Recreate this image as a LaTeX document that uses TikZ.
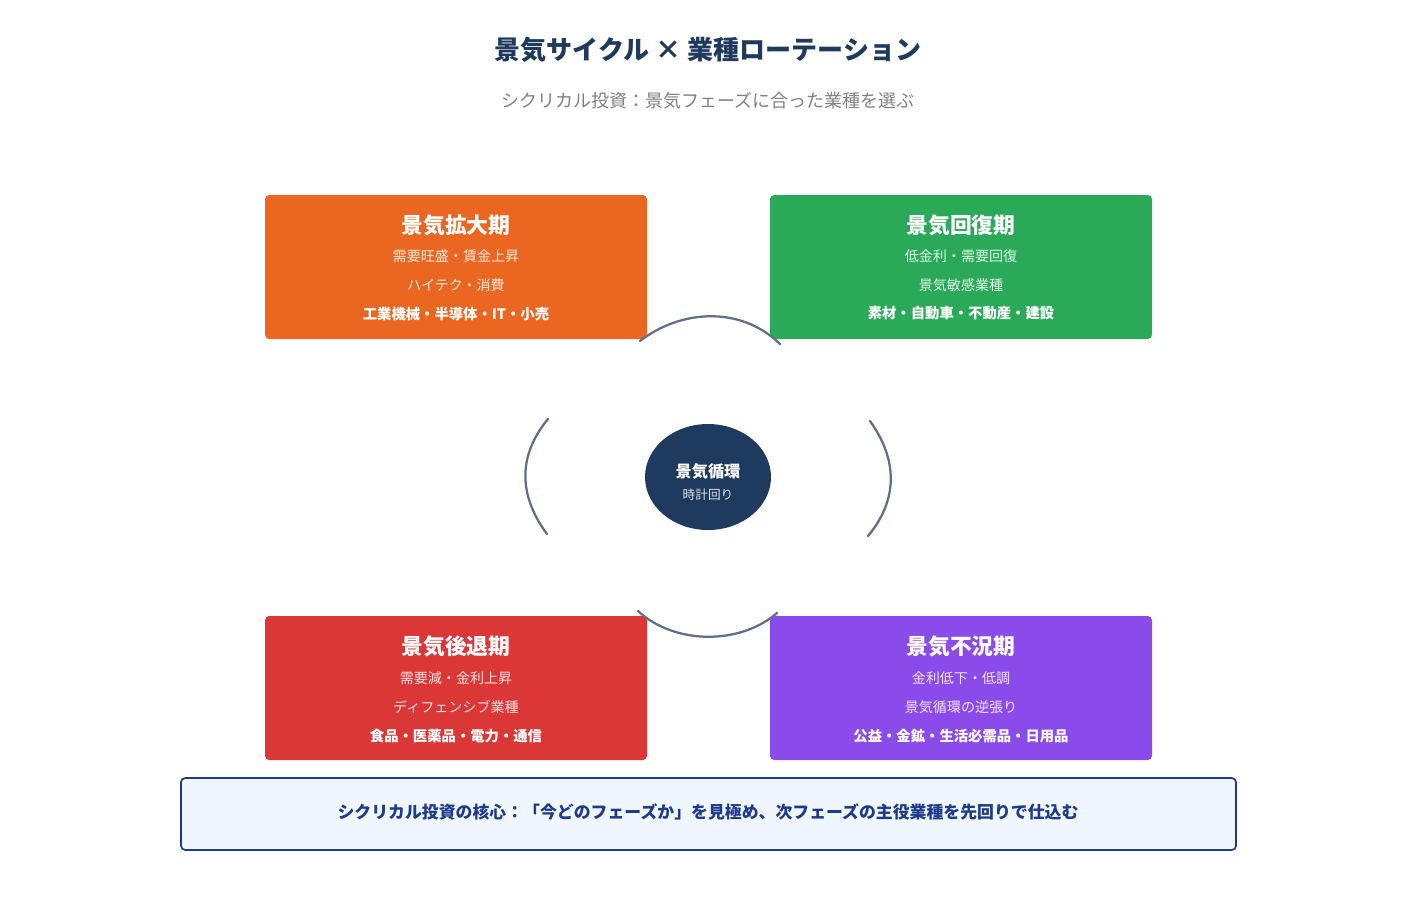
\documentclass[tikz,border=0pt]{standalone}
\usepackage{fontspec}
\usetikzlibrary{shapes.geometric}
\setmainfont{Noto Sans CJK JP}
\begin{document}
\begin{tikzpicture}[x=0.025cm,y=-0.025cm,
 ttl/.style={text=white,font=\fontsize{15.5}{18}\selectfont\bfseries},
 sub/.style={text=white,text opacity=0.85,font=\fontsize{10}{12}\selectfont},
 key/.style={text=white,font=\fontsize{10.2}{12}\selectfont\bfseries},
 arcl/.style={draw=arcc,line width=1.6pt,line cap=round}]
\definecolor{navy}{HTML}{1E3A5F}
\definecolor{corange}{HTML}{EB6620}
\definecolor{cgreen}{HTML}{2AAA58}
\definecolor{cred}{HTML}{DC3737}
\definecolor{cpurple}{HTML}{8B4BEA}
\definecolor{arcc}{HTML}{5F6F8A}
\definecolor{bfill}{HTML}{EFF6FF}
\definecolor{bdraw}{HTML}{1E3A8A}
\useasboundingbox (0,0) rectangle (1417,897);
\node[text=navy,font=\fontsize{18.5}{22}\selectfont\bfseries] (title) at (708,50) {景気サイクル × 業種ローテーション};
\node[text=gray,font=\fontsize{12.8}{15}\selectfont] (subtitle) at (708,101) {シクリカル投資：景気フェーズに合った業種を選ぶ};
% cards
\fill[corange,rounded corners=3pt] (265,195) rectangle (647,339);
\fill[cgreen,rounded corners=3pt] (770,195) rectangle (1152,339);
\fill[cred,rounded corners=3pt] (265,616) rectangle (647,760);
\fill[cpurple,rounded corners=3pt] (770,616) rectangle (1152,760);
\node[ttl] (t1) at (456,225) {景気拡大期};
\node[sub] (a1) at (456,256) {需要旺盛・賃金上昇};
\node[sub] (b1) at (456,285) {ハイテク・消費};
\node[key] (c1) at (456,314) {工業機械・半導体・IT・小売};
\node[ttl] (t2) at (961,225) {景気回復期};
\node[sub] (a2) at (961,256) {低金利・需要回復};
\node[sub] (b2) at (961,285) {景気敏感業種};
\node[key] (c2) at (961,313) {素材・自動車・不動産・建設};
\node[ttl] (t3) at (456,646) {景気後退期};
\node[sub] (a3) at (456,678) {需要減・金利上昇};
\node[sub] (b3) at (456,707) {ディフェンシブ業種};
\node[key] (c3) at (456,736) {食品・医薬品・電力・通信};
\node[ttl] (t4) at (961,646) {景気不況期};
\node[sub] (a4) at (961,678) {金利低下・低調};
\node[sub] (b4) at (961,707) {景気循環の逆張り};
\node[key] (c4) at (961,736) {公益・金鉱・生活必需品・日用品};
% center
\fill[navy] (708,477) ellipse [x radius=63,y radius=53];
\node[text=white,font=\fontsize{11.5}{13}\selectfont\bfseries] (ct) at (708,471) {景気循環};
\node[text=white,text opacity=0.85,font=\fontsize{9}{11}\selectfont] (cs) at (708,495) {時計回り};
% arcs
\draw[arcl] (640,341) .. controls (680,310) and (740,305) .. (780,344);
\draw[arcl] (870,421) .. controls (898,460) and (898,500) .. (868,536);
\draw[arcl] (777,613) .. controls (740,645) and (675,645) .. (638,611);
\draw[arcl] (547,534) .. controls (518,495) and (518,455) .. (548,419);
% bottom
\draw[draw=bdraw,fill=bfill,line width=1.2pt,rounded corners=3pt] (181,778) rectangle (1236,850);
\node[text=bdraw,font=\fontsize{12}{14}\selectfont\bfseries] (note) at (708,812) {シクリカル投資の核心：「今どのフェーズか」を見極め、次フェーズの主役業種を先回りで仕込む};
\end{tikzpicture}
\end{document}
